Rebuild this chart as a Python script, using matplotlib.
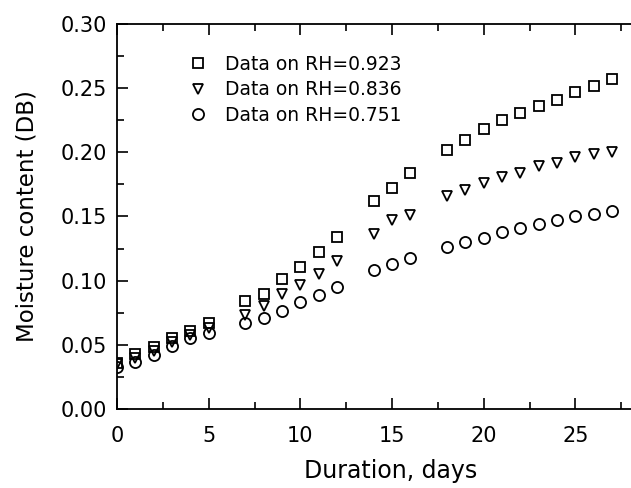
import matplotlib
matplotlib.use("Agg")
import matplotlib.pyplot as plt
from matplotlib.ticker import MultipleLocator, FormatStrFormatter

days_a = [0, 1, 2, 3, 4, 5, 7, 8, 9, 10, 11, 12, 14, 15, 16, 18, 19, 20, 21, 22, 23, 24, 25, 26, 27]
rh923 = [0.036, 0.043, 0.048, 0.055, 0.061, 0.067, 0.084, 0.090, 0.101, 0.111, 0.122, 0.134,
         0.162, 0.172, 0.184, 0.202, 0.210, 0.218, 0.225, 0.231, 0.236, 0.241, 0.247, 0.252, 0.257]
rh836 = [0.035, 0.040, 0.045, 0.052, 0.058, 0.063, 0.073, 0.080, 0.090, 0.097, 0.105, 0.115,
         0.136, 0.147, 0.151, 0.166, 0.171, 0.176, 0.181, 0.184, 0.189, 0.192, 0.196, 0.199, 0.200]
rh751 = [0.033, 0.037, 0.042, 0.049, 0.055, 0.059, 0.067, 0.071, 0.076, 0.083, 0.089, 0.095,
         0.108, 0.113, 0.118, 0.126, 0.130, 0.133, 0.138, 0.141, 0.144, 0.147, 0.150, 0.152, 0.154]
labels = ["Data on RH=0.923", "Data on RH=0.836", "Data on RH=0.751"]

plt.rcParams['font.family'] = ['DejaVu Sans']
fig = plt.figure(figsize=(6.31, 4.88), dpi=100)
ax = fig.add_axes([117/631, 1 - 409/488, 1 - 117/631 + 0.002, (409 - 24)/488])

kw = dict(linestyle='none', markerfacecolor='none', markeredgecolor='black', markeredgewidth=1.3)
ax.plot(days_a, rh923, marker='s', markersize=7, label=labels[0], **kw)
ax.plot(days_a, rh836, marker='v', markersize=7.5, label=labels[1], **kw)
ax.plot(days_a, rh751, marker='o', markersize=8, label=labels[2], **kw)

ax.set_xlim(0, 28.1)
ax.set_ylim(0, 0.30)
ax.xaxis.set_major_locator(MultipleLocator(5))
ax.xaxis.set_minor_locator(MultipleLocator(2.5))
ax.yaxis.set_major_locator(MultipleLocator(0.05))
ax.yaxis.set_minor_locator(MultipleLocator(0.025))
ax.yaxis.set_major_formatter(FormatStrFormatter('%.2f'))

for s in ['left', 'bottom', 'top']:
    ax.spines[s].set_linewidth(1.3)
ax.spines['right'].set_visible(False)
ax.tick_params(which='both', direction='in', top=True, right=False, width=1.2, labelsize=15)
ax.tick_params(which='major', length=8)
ax.tick_params(which='minor', length=5)
ax.tick_params(axis='x', pad=12)
ax.tick_params(axis='y', pad=7)

ax.set_xlabel("Duration, days", fontsize=17, va='center')
ax.xaxis.set_label_coords((390 - 117) / 514, -(471 - 409) / 385)
ax.set_ylabel("Moisture content (DB)", fontsize=16.5, va='center')
ax.yaxis.set_label_coords(-(117 - 27) / 514, 0.5)

leg = ax.legend(loc='upper left', bbox_to_anchor=(0.125, 0.94), frameon=False, fontsize=13.5,
                handletextpad=0.9, labelspacing=0.35, handlelength=1.0, borderaxespad=0)

fig.savefig("out.png", dpi=100)
